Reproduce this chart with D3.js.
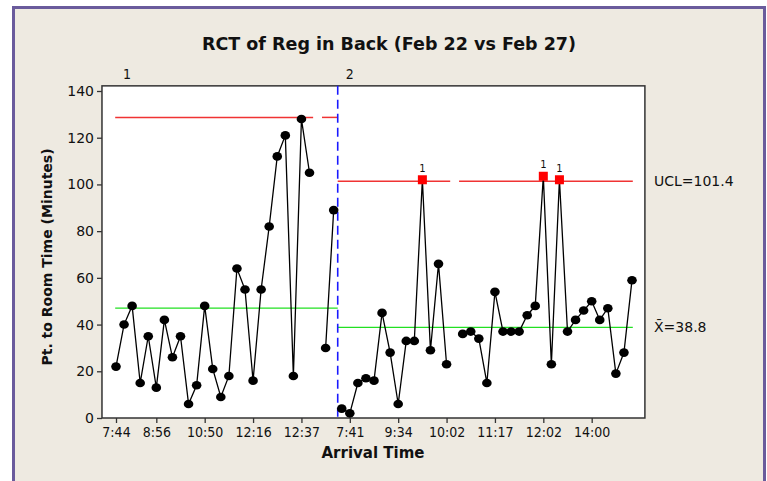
<!DOCTYPE html>
<html>
<head>
<meta charset="utf-8">
<script src="https://cdn.jsdelivr.net/npm/d3@7"></script>
<style>
  html, body { margin: 0; padding: 0; background: #fff; }
  svg { display: block; }
  text { font-family: "DejaVu Sans", sans-serif; fill: #111; }
</style>
</head>
<body>
<svg id="chart" width="767" height="481"></svg>
<script>
// observations, in arrival order (null = missing value)
const stage1 = [22, 40, 48, 15, 35, 13, 42, 26, 35, 6, 14, 48, 21, 9, 18, 64, 55, 16, 55, 82,
  112, 121, 18, 128, 105, null, 30, 89];
const stage2 = [4, 2, 15, 17, 16, 45, 28, 6, 33, 33, 102, 29, 66, 23, null, 36, 37, 34, 15, 54,
  37, 37, 37, 44, 48, 103.5, 23, 102, 37, 42, 46, 50, 42, 47, 19, 28, 59];
const stageNames = ["1", "2"];
const stageUCL = [128.7, 101.4];
const stageMean = [47.0, 38.8];
const tickIndex = [0, 5, 11, 17, 23, 29, 35, 41, 47, 53, 59];
const tickLabels = ["7:44", "8:56", "10:50", "12:16", "12:37", "7:41", "9:34", "10:02", "11:17", "12:02", "14:00"];
const yTicks = [0, 20, 40, 60, 80, 100, 120, 140];

const svg = d3.select('#chart');

// outer panel
svg.append('rect')
  .attr('x', 13.5).attr('y', 7.5)
  .attr('width', 751).attr('height', 500)
  .attr('fill', '#eeeae1')
  .attr('stroke', '#6a5b9c')
  .attr('stroke-width', 3);

const x = d3.scaleLinear().domain([0, 64]).range([116, 632]);
const y = d3.scaleLinear().domain([0, 140]).range([418, 91]);

const plotLeft = x(-1.74), plotRight = x(65.6), plotTop = y(142.2), plotBottom = y(0);

svg.append('rect')
  .attr('x', plotLeft).attr('y', plotTop)
  .attr('width', plotRight - plotLeft).attr('height', plotBottom - plotTop)
  .attr('fill', '#fff')
  .attr('stroke', '#333').attr('stroke-width', 1.5);

// build stages
const stages = [stage1, stage2].map((vals, s) => {
  const offset = s === 0 ? 0 : stage1.length;
  return {
    name: stageNames[s],
    ucl: stageUCL[s],
    mean: stageMean[s],
    start: offset,
    end: offset + vals.length - 1,
    pts: vals.map((v, i) => ({ i: offset + i, v }))
  };
});

const boundary = (stages[0].end + stages[1].start) / 2;

// control lines
stages.forEach((st, s) => {
  const x0 = s === 0 ? st.start - 0.1 : boundary;
  const x1 = s === 0 ? boundary : st.end + 0.1;

  svg.append('line')
    .attr('x1', x(x0)).attr('x2', x(x1))
    .attr('y1', y(st.mean)).attr('y2', y(st.mean))
    .attr('stroke', '#22e022').attr('stroke-width', 1.3);

  // UCL broken where values are missing
  const missing = st.pts.filter(p => p.v === null).map(p => p.i);
  const cuts = [x0];
  missing.forEach(m => { cuts.push(m - 0.55, m + 0.55); });
  cuts.push(x1);
  for (let k = 0; k < cuts.length; k += 2) {
    svg.append('line')
      .attr('x1', x(cuts[k])).attr('x2', x(cuts[k + 1]))
      .attr('y1', y(st.ucl)).attr('y2', y(st.ucl))
      .attr('stroke', '#f03333').attr('stroke-width', 1.5);
  }
});

// stage divider
svg.append('line')
  .attr('x1', x(boundary)).attr('x2', x(boundary))
  .attr('y1', plotTop).attr('y2', plotBottom)
  .attr('stroke', '#1a1aff').attr('stroke-width', 1.6)
  .attr('stroke-dasharray', '9,5');

// data lines and points
const line = d3.line()
  .defined(d => d.v !== null)
  .x(d => x(d.i))
  .y(d => y(d.v));

stages.forEach(st => {
  svg.append('path')
    .datum(st.pts)
    .attr('d', line)
    .attr('fill', 'none')
    .attr('stroke', '#000')
    .attr('stroke-width', 1.3);

  const ok = st.pts.filter(p => p.v !== null && p.v <= st.ucl);
  const bad = st.pts.filter(p => p.v !== null && p.v > st.ucl);

  svg.append('g').selectAll('ellipse')
    .data(ok)
    .enter().append('ellipse')
    .attr('cx', d => x(d.i))
    .attr('cy', d => y(d.v))
    .attr('rx', 4.8).attr('ry', 4.3)
    .attr('fill', '#000');

  svg.append('g').selectAll('rect')
    .data(bad)
    .enter().append('rect')
    .attr('x', d => x(d.i) - 4.5)
    .attr('y', d => y(d.v) - 4.5)
    .attr('width', 9).attr('height', 9)
    .attr('fill', '#ff0000');

  svg.append('g').selectAll('text')
    .data(bad)
    .enter().append('text')
    .attr('x', d => x(d.i))
    .attr('y', d => y(d.v) - 8)
    .attr('text-anchor', 'middle')
    .style('font-size', '10px')
    .text('1');

  svg.append('text')
    .attr('x', x(st.start) + (st.start === 0 ? 11 : 8))
    .attr('y', 79)
    .attr('text-anchor', 'middle')
    .style('font-family', '"DejaVu Sans Condensed", "DejaVu Sans", sans-serif')
    .style('font-size', '14px')
    .text(st.name);
});

// axes
const yAxis = svg.append('g')
  .attr('transform', `translate(${plotLeft},0)`)
  .call(d3.axisLeft(y).tickValues(yTicks).tickSize(5).tickPadding(3));
const xAxis = svg.append('g')
  .attr('transform', `translate(0,${plotBottom})`)
  .call(d3.axisBottom(x).tickValues(tickIndex).tickFormat((d, i) => tickLabels[i]).tickSize(5).tickPadding(4));

[yAxis, xAxis].forEach(g => {
  g.select('.domain').remove();
  g.selectAll('.tick line').attr('stroke', '#333').attr('stroke-width', 1.3);
  g.selectAll('.tick text').attr('fill', '#111');
});
yAxis.selectAll('.tick text')
  .style('font-family', '"DejaVu Sans", sans-serif')
  .style('font-size', '14px');
xAxis.selectAll('.tick text')
  .style('font-family', '"DejaVu Sans Condensed", "DejaVu Sans", sans-serif')
  .style('font-size', '14px');

// right-hand limit labels
const last = stages[stages.length - 1];
svg.append('text')
  .attr('x', 654).attr('y', y(last.ucl) + 5)
  .style('font-size', '14px')
  .text('UCL=' + d3.format('.1f')(last.ucl));
svg.append('text')
  .attr('x', 654).attr('y', y(last.mean) + 5)
  .style('font-size', '14px')
  .text('X\u0304=' + d3.format('.1f')(last.mean));

// titles
svg.append('text')
  .attr('x', 389).attr('y', 50)
  .attr('text-anchor', 'middle')
  .style('font-size', '17.5px')
  .style('font-weight', 'bold')
  .text('RCT of Reg in Back (Feb 22 vs Feb 27)');

svg.append('text')
  .attr('x', 373).attr('y', 458)
  .attr('text-anchor', 'middle')
  .style('font-size', '15px')
  .style('font-weight', 'bold')
  .text('Arrival Time');

svg.append('text')
  .attr('transform', 'translate(52,257) rotate(-90)')
  .attr('text-anchor', 'middle')
  .style('font-size', '14px')
  .style('font-weight', 'bold')
  .text('Pt. to Room Time (Minutes)');
</script>
</body>
</html>
